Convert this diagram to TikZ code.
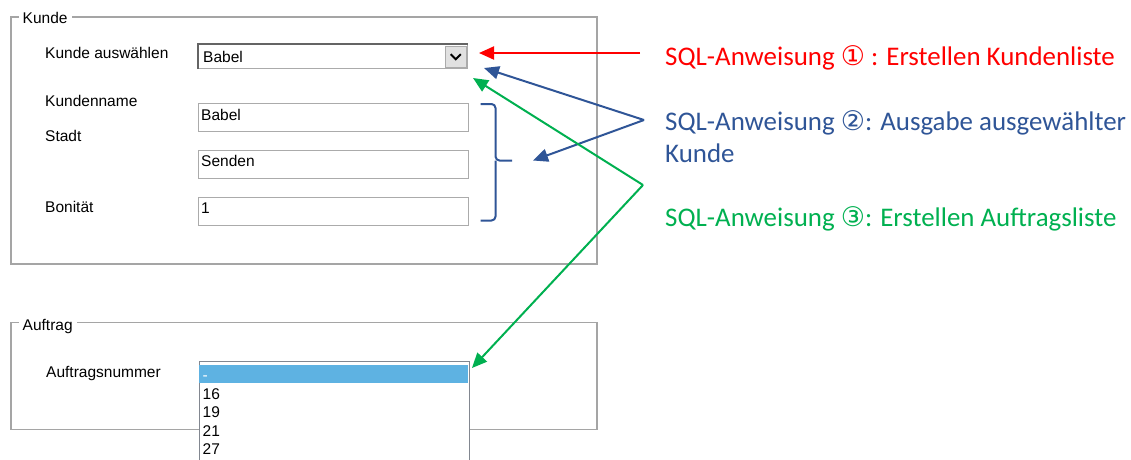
\documentclass[tikz,border=0pt]{standalone}
\usepackage{fontspec}
\setmainfont{Liberation Sans}
\newfontfamily\calfont{Carlito}
\newfontfamily\circfont{DejaVu Sans}
\usetikzlibrary{arrows.meta}

\definecolor{framegray}{RGB}{165,165,165}
\definecolor{boxgray}{RGB}{171,171,171}
\definecolor{darkedge}{RGB}{100,100,100}
\definecolor{listedge}{RGB}{130,135,144}
\definecolor{btnfill}{RGB}{225,225,225}
\definecolor{selblue}{RGB}{94,178,226}
\definecolor{sqlred}{RGB}{255,0,0}
\definecolor{sqlblue}{RGB}{47,85,151}
\definecolor{sqlgreen}{RGB}{0,176,80}

\newcommand{\circnum}[1]{{\circfont\fontsize{27}{30}\selectfont #1}}

\tikzset{
  ui/.style={font=\fontsize{15.5}{18}\selectfont, inner sep=0pt, anchor=base west},
  grouplabel/.style={ui, fill=white, inner xsep=4pt, inner ysep=1pt},
  groupframe/.style={draw=framegray, line width=1.2pt},
  textbox/.style={draw=boxgray, line width=1.4pt, fill=white, anchor=north west,
                  minimum width=270pt, minimum height=28pt, inner sep=0pt},
  sqltext/.style={font=\calfont\fontsize{26.9}{32.7}\selectfont, inner sep=0pt,
                  anchor=base west, align=left},
  sqlarrow/.style={line width=2pt, -{Triangle[length=15pt,width=13pt]}},
}

\begin{document}
\begin{tikzpicture}[x=1pt,y=-1pt]
\useasboundingbox (0,0) rectangle (1131,459);
\clip (0,0) rectangle (1131,459);

% ---------- group "Kunde" ----------
\draw[groupframe] (11,17) rectangle (597,264);
\node[grouplabel] (gKunde) at (18.5,23) {Kunde};

\node[ui] (lWahl)  at (45,58)  {Kunde auswählen};
\node[ui] (lName)  at (45,106) {Kundenname};
\node[ui] (lStadt) at (45,141) {Stadt};
\node[ui] (lBon)   at (45,212) {Bonität};

% combo box
\node[draw=boxgray, line width=1pt, fill=white, anchor=north west,
      minimum width=269pt, minimum height=24pt, inner sep=0pt] (combo) at (198,44) {};
\draw[darkedge, line width=2pt] (combo.south west) -- (combo.north west) -- (combo.north east);
\node[draw=boxgray, line width=1pt, fill=btnfill, anchor=north west,
      minimum width=21.5pt, minimum height=21pt, inner sep=0pt] (btn) at (444.5,45.7) {};
\draw[black, line width=2pt] ([shift={(-5,-2.5)}]btn.center) -- ([shift={(0,2.5)}]btn.center)
      -- ([shift={(5,-2.5)}]btn.center);
\node[ui] (comboTxt) at (203,62) {Babel};

% text boxes
\node[textbox] (tName) at (198,102.5) {};
\node[ui] (tNameTxt) at (201,120) {Babel};
\node[textbox] (tStadt) at (198,149.5) {};
\node[ui] (tStadtTxt) at (201,166.5) {Senden};
\node[textbox] (tBon) at (198,196.5) {};
\node[ui] (tBonTxt) at (201,213) {1};

% brace grouping the three fields
\coordinate (brTop) at (480.5,104);
\coordinate (brBot) at (480.5,220.5);
\coordinate (brTip) at (512,160.5);
\draw[sqlblue, line width=2pt, rounded corners=4pt]
  (brTop) -- (495.5,104) -- (495.5,160.5) -- (brTip);
\draw[sqlblue, line width=2pt, rounded corners=4pt]
  (brBot) -- (495.5,220.5) -- (495.5,160.5);

% ---------- group "Auftrag" ----------
\draw[groupframe] (11,322.5) rectangle (597,429.5);
\node[grouplabel] (gAuftrag) at (18.5,330) {Auftrag};
\node[ui] (lNr) at (46,377) {Auftragsnummer};

% list box (runs past the lower edge)
\node[draw=listedge, line width=1.3pt, fill=white, anchor=north west,
      minimum width=270.5pt, minimum height=130pt, inner sep=0pt] (list) at (198.5,361) {};
\fill[selblue] (199.4,364.5) rectangle (468.3,383);
\node[ui, text=white] (it0) at (202.5,380) {-};
\node[ui] (it1) at (202.5,399) {16};
\node[ui] (it2) at (202.5,417.5) {19};
\node[ui] (it3) at (202.5,436) {21};
\node[ui] (it4) at (202.5,454.5) {27};

% ---------- SQL statements ----------
\node[sqltext, text=sqlred] (sql1) at (665,65)
  {SQL-Anweisung \circnum{①} : Erstellen Kundenliste};
\node[sqltext, text=sqlblue] (sql2) at (665,162.7)
  {SQL-Anweisung \circnum{②}: Ausgabe ausgewählter\\Kunde};
\node[sqltext, text=sqlgreen] (sql3) at (665,226)
  {SQL-Anweisung \circnum{③}: Erstellen Auftragsliste};

% arrow end points
\coordinate (redStart) at (640,53);
\coordinate (redTip) at (479,53);
\coordinate (blueFork) at (644,120);
\coordinate (blueTipA) at (484,68);
\coordinate (blueTipB) at (533,160.5);
\coordinate (greenFork) at (643,185);
\coordinate (greenTipA) at (473,78);
\coordinate (greenTipB) at (472,368);

\draw[sqlarrow, sqlred] (redStart) -- (redTip);
\draw[sqlarrow, sqlblue] (blueFork) -- (blueTipA);
\draw[sqlarrow, sqlblue] (blueFork) -- (blueTipB);
\draw[sqlarrow, sqlgreen] (greenFork) -- (greenTipA);
\draw[sqlarrow, sqlgreen] (greenFork) -- (greenTipB);
\end{tikzpicture}
\end{document}
